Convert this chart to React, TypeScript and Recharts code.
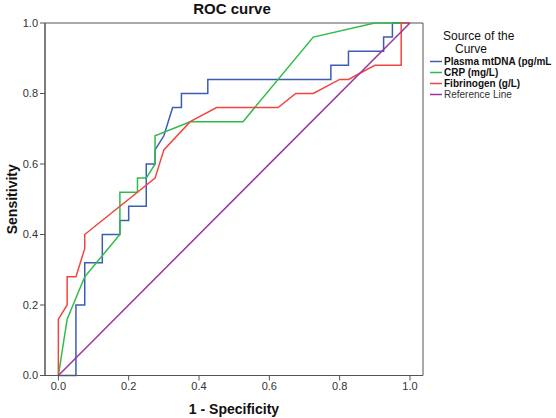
import React from 'react';
import { LineChart, Line, XAxis, YAxis, ReferenceArea } from 'recharts';

// 1 - Specificity (x) and Sensitivity (y) for each curve
const plasmaFpr = [0, 0.05, 0.05, 0.075, 0.075, 0.125, 0.125, 0.175, 0.175, 0.2, 0.2, 0.25, 0.25, 0.275, 0.275, 0.3, 0.325, 0.35, 0.35, 0.425, 0.425, 0.775, 0.775, 0.825, 0.825, 0.925, 0.925, 0.95, 0.95, 1.0];
const plasmaSens = [0, 0, 0.2, 0.2, 0.32, 0.32, 0.4, 0.4, 0.44, 0.44, 0.48, 0.48, 0.6, 0.6, 0.64, 0.68, 0.76, 0.76, 0.8, 0.8, 0.84, 0.84, 0.88, 0.88, 0.92, 0.92, 0.96, 0.96, 1.0, 1.0];

const crpFpr = [0, 0.025, 0.075, 0.175, 0.175, 0.225, 0.225, 0.25, 0.275, 0.275, 0.375, 0.525, 0.725, 0.9, 1.0];
const crpSens = [0, 0.16, 0.28, 0.4, 0.52, 0.52, 0.56, 0.56, 0.6, 0.68, 0.72, 0.72, 0.96, 1.0, 1.0];

const fibFpr = [0, 0, 0.025, 0.025, 0.05, 0.075, 0.075, 0.275, 0.3, 0.375, 0.45, 0.625, 0.675, 0.725, 0.8, 0.825, 0.9, 0.975, 0.975, 1.0];
const fibSens = [0, 0.16, 0.2, 0.28, 0.28, 0.36, 0.4, 0.56, 0.64, 0.72, 0.76, 0.76, 0.8, 0.8, 0.84, 0.84, 0.88, 0.88, 1.0, 1.0];

const refFpr = [0, 1];
const refSens = [0, 1];

const seriesNames = ['Plasma mtDNA (pg/mL', 'CRP (mg/L)', 'Fibrinogen (g/L)', 'Reference Line'];
const seriesColors = ['#3d5cb4', '#2fbb4a', '#f0463f', '#9a35a0'];
const axisTicks = [0, 0.2, 0.4, 0.6, 0.8, 1.0];

const toPoints = (xs: number[], ys: number[]) => xs.map((x, i) => ({ x, y: ys[i] }));

const plasmaData = toPoints(plasmaFpr, plasmaSens);
const crpData = toPoints(crpFpr, crpSens);
const fibData = toPoints(fibFpr, fibSens);
const refData = toPoints(refFpr, refSens);
const allSeries = [plasmaData, crpData, fibData, refData];

const FONT = '"Liberation Sans", Arial, Helvetica, sans-serif';
const X_DOMAIN: [number, number] = [-0.038, 1.037];

const XTitle = (props: any) => {
  const vb = props.viewBox || {};
  const cx = vb.x + vb.width / 2;
  return (
    <text x={cx} y={414} textAnchor="middle" fontFamily={FONT} fontSize={14} fontWeight="bold" fill="#111">
      1 - Specificity
    </text>
  );
};

const YTitle = (props: any) => {
  const vb = props.viewBox || {};
  const cy = vb.y + vb.height / 2;
  return (
    <text x={17} y={cy} textAnchor="middle" fontFamily={FONT} fontSize={14} fontWeight="bold" fill="#111" transform={`rotate(-90 17 ${cy})`}>
      Sensitivity
    </text>
  );
};

export default function App() {
  return (
    <div style={{ position: 'absolute', left: 0, top: 0, width: 556, height: 418, background: '#fff', overflow: 'hidden', fontFamily: FONT }}>
      <div style={{ position: 'absolute', left: 0, top: 1, width: 464, textAlign: 'center', fontSize: 15, fontWeight: 'bold', color: '#111', lineHeight: '16px' }}>
        ROC curve
      </div>
      <LineChart width={556} height={418} margin={{ top: 23, right: 133, bottom: 0, left: 0 }}>
        <XAxis
          type="number"
          dataKey="x"
          domain={X_DOMAIN}
          allowDataOverflow
          ticks={axisTicks}
          tickFormatter={(v: number) => v.toFixed(1)}
          height={42.5}
          tickSize={5}
          tick={{ fontSize: 11, fill: '#333', fontFamily: FONT }}
          stroke="#555"
          label={<XTitle />}
        />
        <YAxis
          type="number"
          dataKey="y"
          domain={[0, 1]}
          ticks={axisTicks}
          tickFormatter={(v: number) => v.toFixed(1)}
          width={45}
          tickSize={5}
          tick={{ fontSize: 11, fill: '#333', fontFamily: FONT }}
          stroke="#555"
          label={<YTitle />}
        />
        <ReferenceArea x1={X_DOMAIN[0]} x2={X_DOMAIN[1]} y1={0} y2={1} fill="none" stroke="#555" strokeWidth={1} />
        {allSeries.map((d, i) => (
          <Line
            key={seriesNames[i]}
            data={d}
            dataKey="y"
            name={seriesNames[i]}
            type="linear"
            stroke={seriesColors[i]}
            strokeWidth={1.5}
            dot={false}
            activeDot={false}
            isAnimationActive={false}
          />
        ))}
      </LineChart>
      <div style={{ position: 'absolute', left: 443, top: 30, fontSize: 12, color: '#111', lineHeight: '12px' }}>Source of the</div>
      <div style={{ position: 'absolute', left: 455, top: 43, fontSize: 12, color: '#111', lineHeight: '12px' }}>Curve</div>
      {seriesNames.map((n, i) => (
        <div key={n} style={{ position: 'absolute', left: 430, top: 55.5 + i * 11.3, height: 11, display: 'flex', alignItems: 'center', whiteSpace: 'nowrap' }}>
          <svg width={12} height={11} style={{ display: 'block' }}>
            <line x1={0} y1={5.5} x2={12} y2={5.5} stroke={seriesColors[i]} strokeWidth={1.5} />
          </svg>
          <span style={{ marginLeft: 2, fontSize: 10, lineHeight: '11px', fontWeight: i < 3 ? 'bold' : 'normal', color: i < 3 ? '#111' : '#333' }}>{n}</span>
        </div>
      ))}
    </div>
  );
}
